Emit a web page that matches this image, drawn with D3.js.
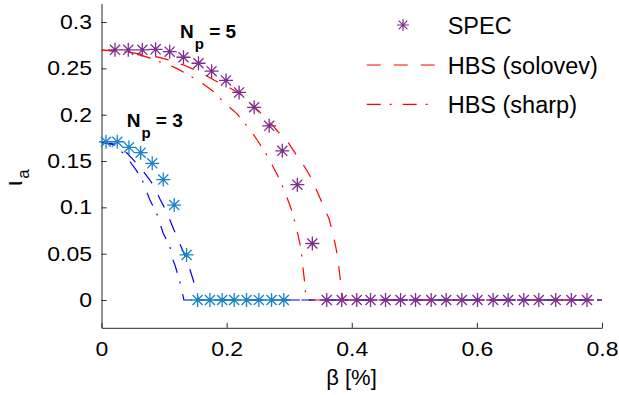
<!DOCTYPE html>
<html>
<head>
<meta charset="utf-8">
<script src="https://cdn.jsdelivr.net/npm/d3@7"></script>
<style>
  body { margin: 0; background: #fff; }
  svg { display: block; font-family: "Liberation Sans", Arial, sans-serif; }
</style>
</head>
<body>
<script>
// SPEC points (asterisks)
const specBeta5 = [0.0216, 0.0428, 0.0652, 0.0865, 0.109, 0.131, 0.155, 0.176, 0.199, 0.220, 0.244, 0.268, 0.289, 0.313, 0.337,
  0.360, 0.384, 0.408, 0.430, 0.454, 0.478, 0.502, 0.527, 0.551, 0.576, 0.601, 0.626, 0.650, 0.675, 0.699, 0.726, 0.751, 0.776];
const specIota5 = [0.270, 0.270, 0.270, 0.2705, 0.268, 0.262, 0.2555, 0.247, 0.237, 0.224, 0.208, 0.188, 0.161, 0.1245, 0.061,
  0, 0, 0, 0, 0, 0, 0, 0, 0, 0, 0, 0, 0, 0, 0, 0, 0, 0];
const specBeta3 = [0.0072, 0.0252, 0.0439, 0.0626, 0.0811, 0.0987, 0.1162, 0.136, 0.1536, 0.1733, 0.1929, 0.2121, 0.2318, 0.2515, 0.2718, 0.2914];
const specIota3 = [0.1708, 0.1708, 0.1648, 0.159, 0.1475, 0.130, 0.1025, 0.0486, 0, 0, 0, 0, 0, 0, 0, 0];

// HBS curves
const solBeta5 = [0, 0.0423, 0.0663, 0.0902, 0.1094, 0.1333, 0.1573, 0.1812, 0.2052, 0.2196, 0.2344, 0.2504, 0.2663, 0.2823, 0.2983,
  0.3117, 0.3249, 0.3356, 0.3436, 0.3542, 0.3638, 0.3697, 0.3745, 0.3781, 0.3808, 0.3836, 0.3861, 0.8];
const solIota5 = [0.2698, 0.2676, 0.2649, 0.2622, 0.2587, 0.2531, 0.2460, 0.2369, 0.2288, 0.2234, 0.2140, 0.2045, 0.1942, 0.1816, 0.1700,
  0.1565, 0.1435, 0.1311, 0.1187, 0.1025, 0.0874, 0.0723, 0.0572, 0.0432, 0.0270, 0.0108, 0, 0];
const shpBeta5 = [0, 0.0423, 0.0695, 0.0907, 0.1067, 0.1201, 0.1440, 0.1573, 0.1780, 0.1972, 0.2159, 0.2291, 0.2398, 0.2488, 0.2611,
  0.2691, 0.2770, 0.2866, 0.3010, 0.3063, 0.3101, 0.3142, 0.3186, 0.3206, 0.3222, 0.3249, 0.3261, 0.3265, 0.8];
const shpIota5 = [0.2698, 0.2676, 0.2630, 0.2576, 0.2539, 0.2500, 0.2410, 0.2356, 0.2255, 0.2123, 0.2015, 0.1907, 0.1816, 0.1727, 0.1600,
  0.1503, 0.1403, 0.1277, 0.1025, 0.0917, 0.0809, 0.0701, 0.0558, 0.0442, 0.0342, 0.0180, 0.0076, 0, 0];
const solBeta3 = [0, 0.0216, 0.0407, 0.0487, 0.0615, 0.0774, 0.0854, 0.0934, 0.1041, 0.1126, 0.1226, 0.1317, 0.1381, 0.1466, 0.1509, 0.1549, 0.8];
const solIota3 = [0.1700, 0.1683, 0.1586, 0.1529, 0.1435, 0.1295, 0.1209, 0.1090, 0.0953, 0.0809, 0.0647, 0.0507, 0.0399, 0.0216, 0.0119, 0, 0];
const shpBeta3 = [0, 0.0216, 0.0375, 0.0535, 0.0642, 0.0722, 0.0774, 0.0881, 0.0934, 0.0987, 0.1094, 0.1121, 0.1174, 0.1253, 0.1281, 0.1317, 0.8];
const shpIota3 = [0.1700, 0.1673, 0.1565, 0.1421, 0.1313, 0.1169, 0.1079, 0.0936, 0.0828, 0.0720, 0.0575, 0.0467, 0.0378, 0.0197, 0.0108, 0, 0];

const xTicks = [0, 0.2, 0.4, 0.6, 0.8];
const yTicks = [0, 0.05, 0.1, 0.15, 0.2, 0.25, 0.3];
const legendLabels = ['SPEC', 'HBS (solovev)', 'HBS (sharp)'];

const W = 619, H = 395;
const purple = '#7e2f8e', lightBlue = '#1a84c6';
const dashed = '14,13', dashDot = '14,9,2,11';
const tickStretch = 1.15; // tick digits in the original are drawn wider

const svg = d3.select('body').append('svg').attr('width', W).attr('height', H);

const x = d3.scaleLinear().domain([0, 0.8]).range([101.5, 602]);
const y = d3.scaleLinear().domain([-0.03, 0.32]).range([327.8, 3.5]);

const zip = (a, b) => a.map((v, i) => [v, b[i]]);
const line = d3.line().x(d => x(d[0])).y(d => y(d[1]));

// asterisk marker: plus + cross
function star(r) {
  const d = r * 0.72;
  return `M${-r},0H${r}M0,${-r}V${r}M${-d},${-d}L${d},${d}M${-d},${d}L${d},${-d}`;
}

// axes
const axisColor = '#262626';
const xAxis = svg.append('g').attr('transform', `translate(0,${y(-0.03)})`)
  .call(d3.axisBottom(x).tickValues(xTicks).tickSize(-5).tickSizeOuter(0).tickPadding(14)
    .tickFormat(d => d === 0 ? '0' : d3.format('.1f')(d)));
const yAxis = svg.append('g').attr('transform', `translate(${x(0)},0)`)
  .call(d3.axisLeft(y).tickValues(yTicks).tickSize(-5).tickSizeOuter(0).tickPadding(9.5)
    .tickFormat(d => d === 0 ? '0' : String(+d.toFixed(2))));
[xAxis, yAxis].forEach(a => {
  a.selectAll('path, line').attr('stroke', axisColor);
  a.selectAll('text').attr('fill', '#000').style('font-size', '20px')
    .style('font-family', '"Liberation Sans", Arial, sans-serif')
    .attr('transform', `scale(${tickStretch},1)`);
});
yAxis.selectAll('text').attr('x', -9.5 / tickStretch);

// HBS lines: red (Np=5) first, then blue (Np=3)
const curves = [
  { b: solBeta5, v: solIota5, c: '#ff0000', dash: dashed },
  { b: shpBeta5, v: shpIota5, c: '#ff0000', dash: dashDot },
  { b: solBeta3, v: solIota3, c: '#0000ff', dash: dashed },
  { b: shpBeta3, v: shpIota3, c: '#0000ff', dash: dashDot }
];
svg.append('g').selectAll('path').data(curves).join('path')
  .attr('d', d => line(zip(d.b, d.v)))
  .attr('fill', 'none').attr('stroke', d => d.c).attr('stroke-width', 1.2)
  .attr('stroke-dasharray', d => d.dash);

// SPEC markers
const markerSets = [
  { pts: zip(specBeta3, specIota3), c: lightBlue },
  { pts: zip(specBeta5, specIota5), c: purple }
];
markerSets.forEach(s => {
  svg.append('g').selectAll('path').data(s.pts).join('path')
    .attr('transform', d => `translate(${x(d[0])},${y(d[1])})`)
    .attr('d', star(7))
    .attr('fill', 'none').attr('stroke', s.c).attr('stroke-width', 1.3);
});

// Np labels
function npLabel(px, py, n) {
  const t = svg.append('text').attr('x', px).attr('y', py)
    .attr('font-weight', 'bold').attr('font-size', 19).attr('fill', '#000');
  t.append('tspan').text('N');
  t.append('tspan').attr('font-size', 15).attr('dy', 11).attr('dx', 1).text('p');
  t.append('tspan').attr('dy', -11).text(' = ' + n);
}
npLabel(x(0.1255), y(0.2824), 5);
npLabel(x(0.0402), y(0.1870), 3);

// legend
const leg = svg.append('g');
leg.append('path').attr('transform', 'translate(403,25)').attr('d', star(6))
  .attr('fill', 'none').attr('stroke', purple).attr('stroke-width', 1.2);
[[65, dashed], [104.3, dashDot]].forEach(([ly, da]) => {
  leg.append('line').attr('x1', 366.7).attr('x2', 438.3).attr('y1', ly).attr('y2', ly)
    .attr('stroke', '#ff0000').attr('stroke-width', 1.2).attr('stroke-dasharray', da);
});
leg.selectAll('text').data(legendLabels).join('text')
  .attr('x', 447.7).attr('y', (d, i) => [34.3, 74, 113][i])
  .attr('font-size', 23.5).attr('fill', '#000').text(d => d);

// axis titles
svg.append('text').attr('x', 351.5).attr('y', 385).attr('text-anchor', 'middle')
  .attr('font-size', 22).attr('fill', '#000').text('β [%]');
const yl = svg.append('text').attr('transform', 'translate(22,186) rotate(-90)')
  .attr('font-size', 24).attr('fill', '#000');
yl.append('tspan').text('ι');
yl.append('tspan').attr('font-size', 17).attr('dy', 7).attr('dx', 2).text('a');
</script>
</body>
</html>
